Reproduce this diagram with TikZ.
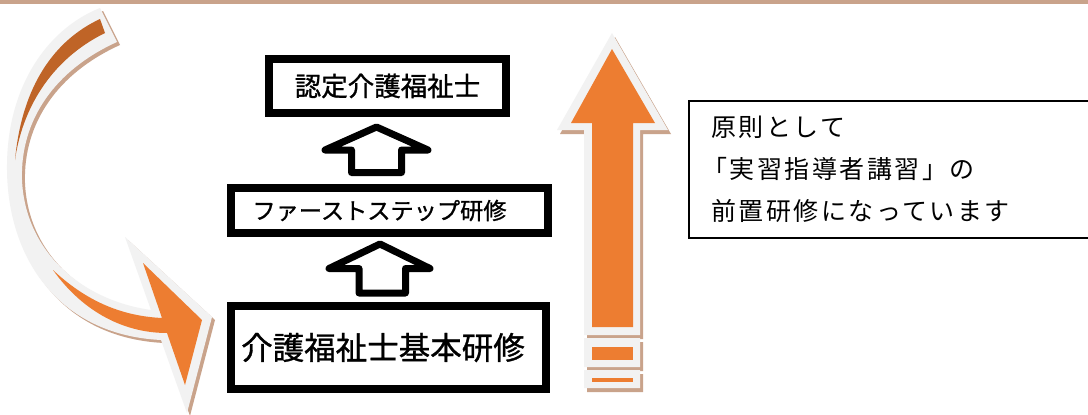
\documentclass[tikz,border=0pt]{standalone}
\usepackage{fontspec}
\newfontfamily\jp[FakeBold=1]{Noto Sans CJK JP}
\newfontfamily\jpsp[LetterSpace=10]{Noto Sans CJK JP}
\definecolor{tanc}{HTML}{C9A38B}
\definecolor{glow}{HTML}{F2F2F2}
\definecolor{orng}{HTML}{ED7D31}
\definecolor{dorng}{HTML}{BF6427}
\tikzset{
  stagebox/.style={draw=black, line width=8pt, fill=white, inner sep=0pt, font=\jp},
  hollow/.style={draw=black, fill=white, line width=7pt, line join=round},
  notebox/.style={draw=black, line width=2.2pt, fill=white, anchor=north west, inner ysep=0pt, inner xsep=22pt, text width=390pt, align=left, font=\jpsp\fontsize{25}{42}\selectfont},
}
\begin{document}
\begin{tikzpicture}[x=1pt,y=-1pt]
\useasboundingbox (0,0) rectangle (1088,415);
\clip (0,0) rectangle (1088,415);
\fill[white] (0,0) rectangle (1088,415);
\fill[tanc] (0,0) rectangle (1088,3.5);

% curved arrow
\def\curvedpath{(100,8) -- (117,42) .. controls (55,70) and (20,120) .. (22,180) .. controls (25,250) and (80,300) .. (151,310) -- (125,237) -- (212,317) -- (187,413) -- (161,340) .. controls (60,335) and (8,260) .. (7,170) .. controls (6,90) and (45,30) .. (100,8) -- cycle}
\fill[tanc, shift={(3,3)}] \curvedpath;
\fill[glow] \curvedpath;
\fill[dorng] (100,19) .. controls (55,40) and (22,85) .. (15,160) .. controls (22,110) and (50,60) .. (105,33) -- cycle;
\fill[orng] (53,270) .. controls (85,300) and (120,316) .. (162,318) -- (143,263) -- (202,320) -- (185,385) -- (167,333) .. controls (120,333) and (80,308) .. (53,270) -- cycle;

% big up arrow
\def\bigarrow{(612,33) -- (668,130) -- (640,130) -- (640,335) -- (584,335) -- (584,130) -- (557,130) -- cycle (584,338) rectangle (640,367) (584,370) rectangle (640,388)}
\fill[tanc, shift={(3,4)}] \bigarrow;
\fill[glow] \bigarrow;
\fill[orng] (612,49) -- (655,123) -- (633,123) -- (633,327) -- (592,327) -- (592,123) -- (571,123) -- cycle;
\fill[orng] (592,347) rectangle (633,360);
\fill[orng] (592,378) rectangle (633,382);

% stage boxes
\node[stagebox, minimum width=237pt, minimum height=54pt] (b1) at (387.5,86) {\fontsize{26.5}{30}\selectfont 認定介護福祉士};
\node[stagebox, minimum width=317pt, minimum height=45pt] (b2) at (389.5,210.5) {\fontsize{23.2}{26}\selectfont ファーストステップ研修\hspace*{20pt}};
\node[stagebox, minimum width=315pt, minimum height=83pt] (b3) at (388.5,347.5) {\fontsize{31.5}{34}\selectfont 介護福祉士基本研修\hspace*{11pt}};

% hollow block arrows
\draw[hollow] (376.5,127) -- (428,150) -- (401.5,150) -- (401.5,172.5) -- (351.5,172.5) -- (351.5,150) -- (325,150) -- cycle;
\draw[hollow] (380,244) -- (430,268.5) -- (405.5,268.5) -- (405.5,293) -- (359,293) -- (359,268.5) -- (329,268.5) -- cycle;

% note
\node[notebox, minimum height=137pt] (note) at (688,100) {原則として\\\hspace*{-9pt}「実習指導者講習」の\\前置研修になっています};
\end{tikzpicture}
\end{document}
